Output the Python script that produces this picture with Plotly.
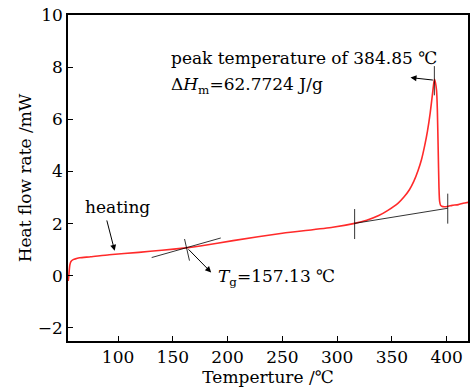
import plotly.graph_objects as go

# DSC curve
temp = [54.5, 55, 56, 57, 59, 62, 65, 75, 92, 119, 140, 162, 175, 205, 250, 296, 316,
        327, 338, 346, 356, 361, 366, 370, 374, 377, 380, 382.5, 385, 387, 388.3, 388.9,
        389.8, 390.8, 391.5, 392.3, 393, 393.6, 394.5, 395.5, 398, 401.6, 405, 410.7,
        415, 419.8]
heat = [-0.2, 0.0, 0.42, 0.55, 0.62, 0.66, 0.69, 0.73, 0.81, 0.90, 0.98, 1.07, 1.14, 1.35,
        1.63, 1.86, 2.01, 2.13, 2.31, 2.50, 2.80, 3.02, 3.30, 3.62, 4.05, 4.45, 5.0, 5.55,
        6.25, 6.95, 7.4, 7.53, 7.4, 7.1, 6.4, 4.8, 3.4, 2.85, 2.70, 2.67, 2.65, 2.67, 2.70,
        2.73, 2.78, 2.82]

# construction lines (x0, y0, x1, y1)
guide_lines = [
    (130.7, 0.70, 193.8, 1.45),   # Tg tangent
    (160.7, 1.41, 165.2, 0.58),   # Tg cross mark
    (316, 2.01, 401, 2.59),       # peak baseline
    (316, 2.56, 316, 1.41),       # baseline start tick
    (401, 3.15, 401, 2.00),       # baseline end tick
    (388.8, 8.04, 388.8, 6.92),   # peak tick
]
# arrows (head x, head y, tail x, tail y)
arrows = [
    (96.9, 0.96, 89.4, 2.18),
    (185, 0.13, 163, 1.07),
    (367, 7.6, 388.8, 7.5),
]

x_ticks = [100, 150, 200, 250, 300, 350, 400]
y_ticks = [-2, 0, 2, 4, 6, 8, 10]

FONT = "DejaVu Serif"
FS = 17

fig = go.Figure()
fig.add_trace(go.Scatter(x=temp, y=heat, mode="lines",
                         line=dict(color="#ff2a2a", width=1.6, shape="spline", smoothing=0.6),
                         showlegend=False, hoverinfo="skip"))
for (x0, y0, x1, y1) in guide_lines:
    fig.add_shape(type="line", x0=x0, y0=y0, x1=x1, y1=y1, xref="x", yref="y",
                  line=dict(color="black", width=0.8))
for (hx, hy, tx, ty) in arrows:
    fig.add_annotation(x=hx, y=hy, ax=tx, ay=ty, xref="x", yref="y", axref="x", ayref="y",
                       text="", showarrow=True, arrowhead=2, arrowsize=1.2, arrowwidth=1,
                       arrowcolor="black")

fig.add_annotation(x=67.9, y=2.62, xref="x", yref="y", text="heating", showarrow=False,
                   xanchor="left", yanchor="middle", font=dict(family=FONT, size=FS, color="black"))
fig.add_annotation(x=189, y=-0.06, xref="x", yref="y",
                   text="<i>T</i><sub>g</sub>=157.13 ℃", showarrow=False,
                   xanchor="left", yanchor="middle", font=dict(family=FONT, size=FS, color="black"))
fig.add_annotation(x=146.8, y=8.35, xref="x", yref="y",
                   text="peak temperature of 384.85 ℃", showarrow=False,
                   xanchor="left", yanchor="middle", font=dict(family=FONT, size=FS, color="black"))
fig.add_annotation(x=146.8, y=7.31, xref="x", yref="y",
                   text="Δ<i>H</i><sub>m</sub>=62.7724 J/g", showarrow=False,
                   xanchor="left", yanchor="middle", font=dict(family=FONT, size=FS, color="black"))

fig.update_layout(
    width=471, height=391,
    margin=dict(l=68, r=1, t=15, b=50),
    paper_bgcolor="white", plot_bgcolor="white",
    font=dict(family=FONT, size=FS, color="black"),
    xaxis=dict(range=[54.3, 419.5], tickvals=x_ticks, ticks="inside", ticklen=5,
               tickcolor="black", showline=True, linecolor="black", linewidth=1.5,
               mirror=True, showgrid=False, zeroline=False,
               tickfont=dict(size=FS),
               title=dict(text="Temperture /℃", standoff=0, font=dict(size=FS))),
    yaxis=dict(range=[-2.5, 10], tickvals=y_ticks, ticks="inside", ticklen=5,
               tickcolor="black", showline=True, linecolor="black", linewidth=1.5,
               mirror=True, showgrid=False, zeroline=False,
               tickfont=dict(size=FS),
               title=dict(text="Heat flow rate /mW", standoff=2, font=dict(size=FS))),
)
fig.write_html("out.html")
